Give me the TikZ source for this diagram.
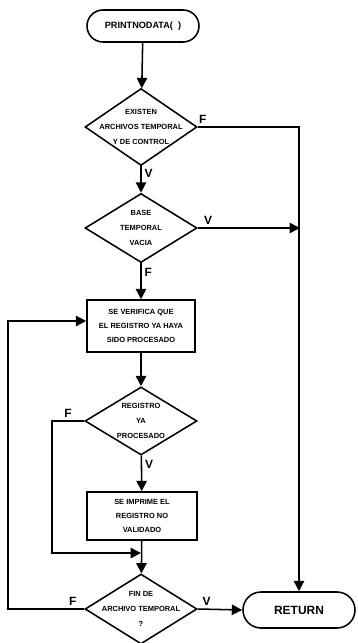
\documentclass[tikz,border=0pt]{standalone}
\usepackage{fontspec}
\setmainfont{Liberation Sans}
\usetikzlibrary{shapes.geometric,arrows.meta,positioning,calc}

\begin{document}
\begin{tikzpicture}[
    x=0.025cm, y=-0.025cm,
    line width=1.1pt,
    >={Triangle[length=2.6mm,width=2.6mm]},
    term/.style={rectangle, draw, rounded corners=0.4cm, minimum width=2.8cm,
        minimum height=0.8cm, font=\fontsize{6.5}{8}\selectfont\bfseries},
    decision/.style={diamond, draw, minimum width=2.8cm, minimum height=1.75cm, inner sep=0pt},
    dtext/.style={align=center, font=\fontsize{5.3}{10.5}\selectfont\bfseries},
    proc/.style={rectangle, draw, minimum width=2.7cm, minimum height=1.3cm,
        align=center, font=\fontsize{5.3}{9.8}\selectfont\bfseries},
    lbl/.style={font=\fontsize{8.5}{8.5}\selectfont\bfseries, inner sep=2pt},
    edge/.style={->}
]
    \useasboundingbox (0,0) rectangle (357,643);

    \node[term] (start) at (143,26) {PRINTNODATA(\ \ )};
    \node[decision, minimum height=1.925cm,
        label={[dtext]center:EXISTEN\\ARCHIVOS TEMPORAL\\Y DE CONTROL}] (d1) at (141,127) {};
    \node[decision, minimum height=1.725cm,
        label={[dtext]center:BASE\\TEMPORAL\\VACIA}] (d2) at (141,228) {};
    \node[proc] (b1) at (141,326) {SE VERIFICA QUE\\EL REGISTRO YA HAYA\\SIDO PROCESADO};
    \node[decision, minimum height=1.7cm,
        label={[dtext]center:REGISTRO\\YA\\PROCESADO}] (d3) at (141,421) {};
    \node[proc, minimum width=2.75cm, minimum height=1.2cm] (b2) at (142,516)
        {SE IMPRIME EL\\REGISTRO NO\\VALIDADO};
    \node[decision,
        label={[dtext]center:FIN DE\\ARCHIVO TEMPORAL\\?}] (d4) at (141,609) {};
    \node[term, minimum height=0.9cm, rounded corners=0.45cm,
        font=\fontsize{8.5}{8.5}\selectfont\bfseries] (ret) at (299,610) {RETURN};

    % junctions on the return line and the main column
    \coordinate (j1) at (300,228);
    \coordinate (j2) at (141,553);

    \draw[edge] (start) -- (d1);
    \draw[edge] (d1) -- node[lbl, right, pos=0.25] {V} (d2);
    \draw[edge] (d1.east) -- node[lbl, above, pos=0.05] {F} (d1.east -| ret.north) -- (ret.north);
    \draw[edge] (d2.east) -- node[lbl, above, pos=0.1] {V} (j1);
    \draw[edge] (d2) -- node[lbl, right, pos=0.25] {F} (b1);
    \draw[edge] (b1) -- (d3);
    \draw[edge] (d3) -- node[lbl, right, pos=0.25] {V} (b2);
    \draw[edge] (b2) -- (d4);
    \draw[edge] (d3.west) -- node[lbl, above, pos=0.5] {F} (52,421) -- (52,553) -- (j2);
    \draw[edge] (d4.west) -- node[lbl, above, pos=0.15] {F} (8,609) -- (8,321) -- (b1.west |- 0,321);
    \draw[edge] (d4.east) -- node[lbl, above, pos=0.2] {V} (ret.west);
\end{tikzpicture}
\end{document}
